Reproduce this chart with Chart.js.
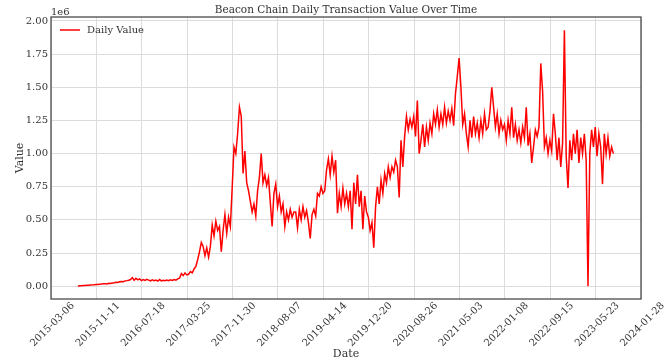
<!DOCTYPE html>
<html>
<head>
<meta charset="utf-8">
<script src="https://cdn.jsdelivr.net/npm/chart.js@4.4.0/dist/chart.umd.min.js"></script>
<style>
  html, body { margin: 0; padding: 0; background: #fff; }
  #chart { display: block; }
</style>
</head>
<body>
<canvas id="chart" width="669" height="364"></canvas>
<script>
// Series: one reading every 10 days, values in millions (axis offset "1e6")
const startDate = '2015-08-01';
const stepDays = 10;
const dailyValueM = [
    0.000, 0.003, 0.004, 0.005, 0.006, 0.007, 0.008, 0.009, 0.010, 0.011,
    0.012, 0.013, 0.015, 0.016, 0.018, 0.019, 0.017, 0.022, 0.020, 0.024,
    0.026, 0.030, 0.028, 0.033, 0.036, 0.034, 0.040, 0.042, 0.045, 0.050,
    0.065, 0.045, 0.060, 0.048, 0.055, 0.042, 0.050, 0.044, 0.052, 0.046,
    0.040, 0.048, 0.042, 0.046, 0.038, 0.050, 0.040, 0.045, 0.041, 0.047,
    0.042, 0.048, 0.044, 0.050, 0.046, 0.055, 0.060, 0.095, 0.080, 0.100,
    0.085, 0.090, 0.110, 0.100, 0.130, 0.150, 0.200, 0.260, 0.330, 0.300,
    0.230, 0.290, 0.220, 0.300, 0.460, 0.380, 0.490, 0.420, 0.450, 0.260,
    0.420, 0.540, 0.400, 0.520, 0.450, 0.740, 1.050, 1.000, 1.150, 1.350,
    1.280, 0.850, 1.020, 0.780, 0.720, 0.640, 0.560, 0.620, 0.530, 0.720,
    0.820, 1.000, 0.780, 0.840, 0.760, 0.820, 0.630, 0.450, 0.700, 0.770,
    0.600, 0.680, 0.560, 0.620, 0.450, 0.560, 0.500, 0.580, 0.520, 0.560,
    0.560, 0.440, 0.580, 0.500, 0.600, 0.520, 0.570, 0.480, 0.360, 0.540,
    0.580, 0.530, 0.700, 0.680, 0.750, 0.700, 0.720, 0.880, 0.960, 0.840,
    0.980, 0.860, 0.950, 0.550, 0.700, 0.600, 0.740, 0.620, 0.700, 0.600,
    0.720, 0.430, 0.780, 0.620, 0.840, 0.600, 0.720, 0.430, 0.680, 0.560,
    0.520, 0.420, 0.480, 0.290, 0.600, 0.750, 0.620, 0.800, 0.700, 0.850,
    0.780, 0.900, 0.820, 0.900, 0.860, 0.950, 0.900, 0.670, 1.100, 0.900,
    1.130, 1.280, 1.180, 1.260, 1.200, 1.280, 1.130, 1.400, 1.000, 1.100,
    1.220, 1.050, 1.200, 1.100, 1.230, 1.150, 1.300, 1.220, 1.330, 1.200,
    1.300, 1.220, 1.350, 1.230, 1.320, 1.250, 1.340, 1.210, 1.450, 1.580,
    1.720, 1.500, 1.220, 1.300, 1.150, 1.050, 1.250, 1.120, 1.280, 1.150,
    1.230, 1.120, 1.250, 1.150, 1.300, 1.180, 1.200, 1.320, 1.500, 1.350,
    1.200, 1.300, 1.150, 1.250, 1.180, 1.220, 1.100, 1.250, 1.150, 1.350,
    1.120, 1.220, 1.100, 1.180, 1.080, 1.200, 1.120, 1.350, 1.060, 1.150,
    0.930, 1.050, 1.180, 1.130, 1.200, 1.680, 1.470, 1.050, 1.120, 1.000,
    1.100, 1.020, 1.300, 1.150, 0.950, 1.120, 0.900, 1.080, 1.930, 0.980,
    0.740, 1.100, 0.950, 1.150, 1.000, 1.180, 0.930, 1.120, 1.000, 1.150,
    0.950, 0.000, 1.000, 1.180, 1.050, 1.200, 0.980, 1.150, 1.050, 0.770,
    1.150, 1.000, 1.120, 0.980, 1.050, 1.000
];

const xTickLabels = [
    '2015-03-06', '2015-11-11', '2016-07-18', '2017-03-25', '2017-11-30',
    '2018-08-07', '2019-04-14', '2019-12-20', '2020-08-26', '2021-05-03',
    '2022-01-08', '2022-09-15', '2023-05-23', '2024-01-28'
];
const yTicks = [0, 0.25, 0.5, 0.75, 1.0, 1.25, 1.5, 1.75, 2.0];
const yMin = -0.0965;
const yMax = 2.03;

const titleText = 'Beacon Chain Daily Transaction Value Over Time';
const seriesLabel = 'Daily Value';

const dayNum = (s) => Date.parse(s) / 86400000;
const fmtDate = (d) => new Date(Math.round(d) * 86400000).toISOString().slice(0, 10);

const start = dayNum(startDate);
const points = dailyValueM.map((v, i) => ({ x: start + i * stepDays, y: v }));

const serif = '"DejaVu Serif", serif';
const textColor = '#333';

// Frame, title, offset text, legend and axis titles drawn matplotlib-style
const overlay = {
    id: 'overlay',
    afterDraw(chart) {
        const { ctx, chartArea: a } = chart;
        ctx.save();
        ctx.strokeStyle = '#444';
        ctx.lineWidth = 1.25;
        ctx.strokeRect(a.left, a.top, a.right - a.left, a.bottom - a.top);

        ctx.fillStyle = textColor;
        ctx.textBaseline = 'middle';
        ctx.textAlign = 'center';
        ctx.font = '10.5px ' + serif;
        ctx.fillText(titleText, (a.left + a.right) / 2, 10);

        ctx.font = '11px ' + serif;
        ctx.fillText('Date', (a.left + a.right) / 2, 354);

        ctx.save();
        ctx.translate(20, (a.top + a.bottom) / 2);
        ctx.rotate(-Math.PI / 2);
        ctx.fillText('Value', 0, 0);
        ctx.restore();

        ctx.textAlign = 'left';
        ctx.font = '10px ' + serif;
        ctx.fillText('1e6', a.left, 12);

        // legend
        ctx.strokeStyle = 'red';
        ctx.lineWidth = 1.5;
        ctx.beginPath();
        ctx.moveTo(a.left + 9, a.top + 13);
        ctx.lineTo(a.left + 29, a.top + 13);
        ctx.stroke();
        ctx.font = '10px ' + serif;
        ctx.fillText(seriesLabel, a.left + 36, a.top + 13);
        ctx.restore();
    }
};

new Chart(document.getElementById('chart'), {
    type: 'line',
    data: {
        datasets: [{
            label: seriesLabel,
            data: points,
            borderColor: 'red',
            borderWidth: 1.5,
            pointRadius: 0,
            fill: false,
            tension: 0
        }]
    },
    options: {
        responsive: false,
        animation: false,
        devicePixelRatio: 1,
        layout: { padding: { left: 0, right: 28, top: 17, bottom: 0 } },
        scales: {
            x: {
                type: 'linear',
                min: dayNum(xTickLabels[0]),
                max: dayNum(xTickLabels[xTickLabels.length - 1]),
                afterFit: (s) => { s.height = 65; },
                afterBuildTicks: (s) => { s.ticks = xTickLabels.map(d => ({ value: dayNum(d) })); },
                grid: { color: '#dcdcdc', lineWidth: 1, drawTicks: false },
                border: { display: false },
                ticks: {
                    autoSkip: false,
                    maxRotation: 45,
                    minRotation: 45,
                    padding: 1,
                    labelOffset: 22,
                    color: textColor,
                    font: { family: serif, size: 10 },
                    callback: (v) => fmtDate(v)
                }
            },
            y: {
                min: yMin,
                max: yMax,
                afterFit: (s) => { s.width = 51; },
                afterBuildTicks: (s) => { s.ticks = yTicks.map(v => ({ value: v })); },
                grid: { color: '#dcdcdc', lineWidth: 1, drawTicks: false },
                border: { display: false },
                ticks: {
                    padding: 3,
                    color: textColor,
                    font: { family: serif, size: 10 },
                    callback: (v) => v.toFixed(2)
                }
            }
        },
        plugins: {
            legend: { display: false },
            title: { display: false },
            tooltip: { enabled: false }
        }
    },
    plugins: [overlay]
});
</script>
</body>
</html>
